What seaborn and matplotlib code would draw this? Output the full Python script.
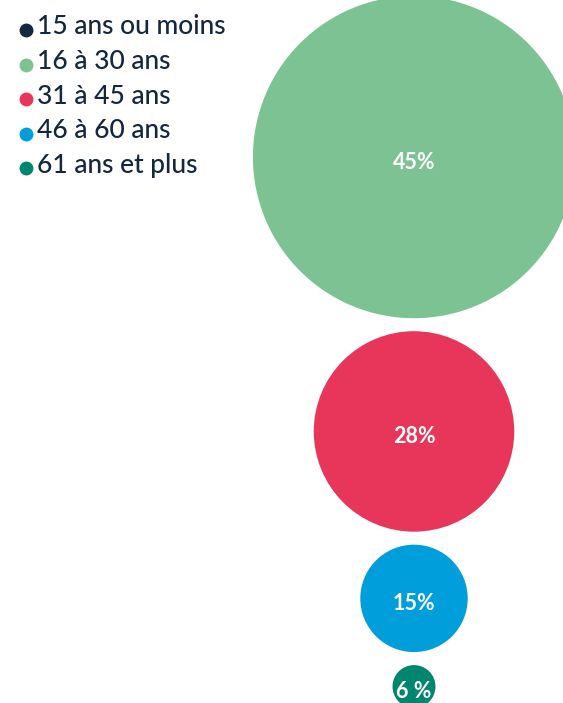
import pandas as pd
import seaborn as sns
import matplotlib.pyplot as plt

# data
groups = ["15 ans ou moins", "16 à 30 ans", "31 à 45 ans", "46 à 60 ans", "61 ans et plus"]
colors = ["#14273f", "#7dc293", "#e8355a", "#009edb", "#00866e"]
bubble_groups = ["16 à 30 ans", "31 à 45 ans", "46 à 60 ans", "61 ans et plus"]
shares = [45, 28, 15, 6]
labels = ["45%", "28%", "15%", "6 %"]

sns.set_theme(style="white")
plt.rcParams['font.family'] = ['Lato', 'DejaVu Sans']

# layout in pixel units (figure is 563x703 at dpi 100)
px_per_pct = 3.58
gap = 13
top = -4
cx = 414

rows = []
for g, v, lab in zip(bubble_groups, shares, labels):
    r = v * px_per_pct
    cy = top + r
    rows.append({"group": g, "share": v, "label": lab, "x": cx, "y": cy, "r": r})
    top = cy + r + gap
df = pd.DataFrame(rows)

palette = dict(zip(groups, colors))
# marker area in pt^2 so that the diameter equals 2r pixels
sizes = {row.group: (2 * row.r * 72 / 100) ** 2 for row in df.itertuples()}

fig = plt.figure(figsize=(5.63, 7.03), dpi=100)
ax = fig.add_axes([0, 0, 1, 1])

sns.scatterplot(data=df, x="x", y="y", hue="group", size="group",
                palette=palette, sizes=sizes, linewidth=0, legend=False, ax=ax)

for row in df.itertuples():
    ax.text(row.x, row.y + 5, row.label, color="white", fontsize=15.5,
            fontweight="bold", ha="center", va="center")

# legend drawn by hand
for i, (g, c) in enumerate(zip(groups, colors)):
    y = 27 + i * 34.5
    ax.scatter(26, y + 3, s=100, color=c, linewidth=0)
    ax.text(37, y, g, color="#14273f", fontsize=19, fontweight="medium",
            ha="left", va="center")

ax.set_xlim(0, 563)
ax.set_ylim(703, 0)
ax.axis("off")

plt.savefig("out.png", dpi=100)
